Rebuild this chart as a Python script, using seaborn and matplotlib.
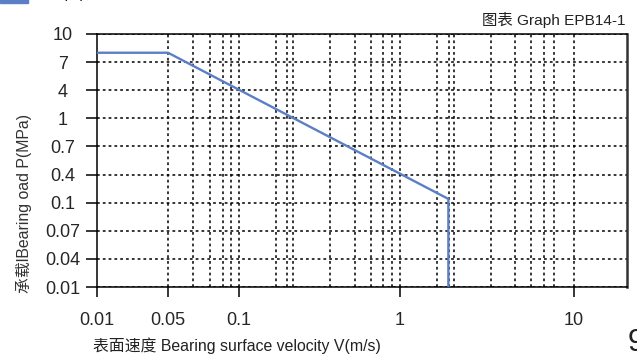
import numpy as np
import matplotlib
matplotlib.use("Agg")
import matplotlib.pyplot as plt
import seaborn as sns
from matplotlib.patches import Rectangle

# data
velocity = [0.01, 0.05, 1.9, 1.9]   # V (m/s)
load = [8, 8, 0.14, 0.01]           # P (MPa)

x_ticks = [0.01, 0.05, 0.1, 1, 10]
x_tick_labels = ["0.01", "0.05", "0.1", "1", "10"]
y_ticks = [0.01, 0.04, 0.07, 0.1, 0.4, 0.7, 1, 4, 7, 10]
y_tick_labels = ["0.01", "0.04", "0.07", "0.1", "0.4", "0.7", "1", "4", "7", "10"]

# the printed chart has a hand-drawn (distorted) log axis, rebuild it as a scale
x_anchor_log = [-2, np.log10(0.05), -1, 0, 1, 1.31]
x_anchor_pos = [0, 71, 142, 303, 476.5, 530]


def fwd_x(v):
    v = np.clip(np.asarray(v, dtype=float), 1e-9, None)
    return np.interp(np.log10(v), x_anchor_log, x_anchor_pos)


def inv_x(u):
    return 10 ** np.interp(np.asarray(u, dtype=float), x_anchor_pos, x_anchor_log)


y_idx = np.arange(len(y_ticks))


def fwd_y(v):
    return np.interp(np.asarray(v, dtype=float), y_ticks, y_idx)


def inv_y(u):
    return np.interp(np.asarray(u, dtype=float), y_idx, y_ticks)


# vertical grid lines as drawn in the original (pixels from left spine)
grid_px = [71, 96, 113, 126, 134, 142, 179, 190, 196, 233, 258, 274, 286, 295,
           303, 340, 352, 357, 394, 418, 434, 447, 457, 477]

sns.set_style("white")
plt.rcParams["font.family"] = ["Liberation Sans", "Noto Sans CJK SC", "DejaVu Sans"]

W, H = 637, 354
fig = plt.figure(figsize=(W / 100, H / 100), dpi=100)
L, R, T, B = 97, 627, 34, 287
ax = fig.add_axes([L / W, 1 - B / H, (R - L) / W, (B - T) / H])

ax.set_xscale("function", functions=(fwd_x, inv_x))
ax.set_yscale("function", functions=(fwd_y, inv_y))

line_color = "#5b7fc6"
sns.lineplot(x=velocity, y=load, ax=ax, estimator=None, sort=False,
             color=line_color, linewidth=1.7, zorder=5)

ax.set_xlim(0.01, 10 ** 1.31)
ax.set_ylim(0.01, 10)

ax.set_xticks(x_ticks)
ax.set_xticklabels(x_tick_labels)
ax.set_yticks(y_ticks)
ax.set_yticklabels(y_tick_labels)
ax.xaxis.set_minor_locator(matplotlib.ticker.NullLocator())
ax.yaxis.set_minor_locator(matplotlib.ticker.NullLocator())

dots = (0, (1.8, 2.0))
ax.grid(False)
ax.yaxis.grid(True, color="black", linestyle=dots, linewidth=1.1)
ax.vlines([p / (R - L) for p in grid_px], 0, 1, transform=ax.transAxes,
          colors="black", linestyles=dots, linewidth=1.1, zorder=1)

ax.tick_params(axis="y", direction="out", length=8, width=1.1, pad=16.5,
               labelsize=13, left=True, color="black")
ax.tick_params(axis="x", direction="out", length=7.2, width=1.1, pad=11,
               labelsize=13, bottom=True, color="black")
for t in ax.get_yticklabels():
    t.set_horizontalalignment("center")

for side in ["left", "bottom", "top"]:
    ax.spines[side].set_color("black")
    ax.spines[side].set_linewidth(1.1)
ax.spines["right"].set_color("#333333")
ax.spines["right"].set_linewidth(1.8)

ax.set_xlabel("")
ax.set_ylabel("")
fig.text(23.5 / W, 1 - 203 / H, "承载lBearing oad P(MPa)", rotation=90,
         ha="center", va="center", fontsize=11.4, color="#333333")
fig.text(236.5 / W, 1 - 337 / H, "表面速度 Bearing surface velocity V(m/s)",
         ha="center", va="top", fontsize=11.4, color="#222222")
fig.text(625 / W, 1 - 20 / H, "图表 Graph EPB14-1", ha="right", va="center",
         fontsize=11.1, color="#222222")

# page decoration cut by the crop
fig.patches.append(Rectangle((0, 1 - 3 / H), 28 / W, 10 / H, transform=fig.transFigure,
                             color=line_color, figure=fig))
fig.text(63 / W, 1 - 3 / H, "图表", ha="left", va="bottom", fontsize=14, color="#222222")
fig.text(628 / W, 1 - 328 / H, "9", ha="left", va="top", fontsize=22, color="#222222")

fig.savefig("out.png", dpi=100)
